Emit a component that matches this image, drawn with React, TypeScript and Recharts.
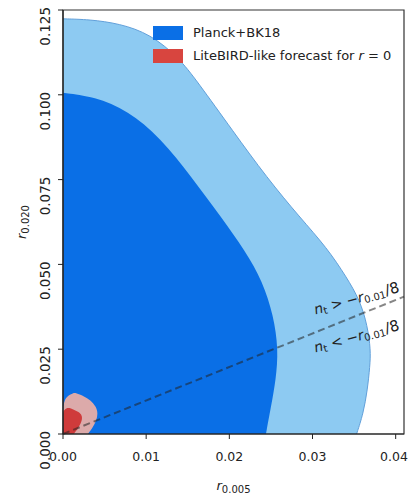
import { ComposedChart, Area, XAxis, YAxis, ReferenceLine, ReferenceArea, ReferenceDot, Legend } from 'recharts';

const xTicks = [0, 0.01, 0.02, 0.03, 0.04];
const yTicks = [0, 0.025, 0.05, 0.075, 0.1, 0.125];

// Planck+BK18 contours, read as [r0.020, r0.005 edge]
const planck68: [number, number][] = [
  [0, 0.0244], [0.008, 0.025], [0.016, 0.0256], [0.025, 0.0259], [0.035, 0.0253],
  [0.045, 0.024], [0.054, 0.0219], [0.064, 0.019], [0.0756, 0.0155], [0.0874, 0.0117],
  [0.0953, 0.0078], [0.0995, 0.0038], [0.1006, 0],
];
const planck95: [number, number][] = [
  [0, 0.0353], [0.006, 0.0361], [0.013, 0.0366], [0.02, 0.0369], [0.0247, 0.037],
  [0.032, 0.0366], [0.0394, 0.0357], [0.0462, 0.0341], [0.055, 0.0317], [0.0638, 0.0285],
  [0.0756, 0.0245], [0.0894, 0.0204], [0.1041, 0.0161], [0.111, 0.0139], [0.1179, 0.0105],
  [0.121, 0.0068], [0.1222, 0.0032], [0.1224, 0],
];
// LiteBIRD forecast, [r0.020, r0.005 low, r0.005 high]
const lite95: [number, number, number][] = [
  [0, 0, 0.003], [0.002, 0, 0.0036], [0.004, 0, 0.004], [0.006, 0, 0.0042],
  [0.008, 0, 0.004], [0.01, 0.0002, 0.0033], [0.0112, 0.0005, 0.0025], [0.0121, 0.0013, 0.0015],
];
const lite68: [number, number, number][] = [
  [0, 0, 0.0013], [0.002, 0, 0.0019], [0.004, 0, 0.0023], [0.0055, 0, 0.0023],
  [0.0065, 0, 0.0019], [0.0073, 0.0002, 0.0012], [0.0077, 0.0006, 0.0007],
];

const consistency = [{ x: 0, y: 0 }, { x: 0.041, y: 0.0405 }];

const legendItems = [
  { label: 'Planck+BK18', color: '#0a6fe6' },
  { label: 'LiteBIRD-like forecast for ', italic: 'r', tail: ' = 0', color: '#d8453f' },
];

const ys = Array.from(
  new Set([...planck68, ...planck95, ...lite95, ...lite68].map((p) => p[0]))
).sort((a, b) => a - b);

const rows = ys.map((y) => {
  const a = planck68.find((p) => p[0] === y);
  const b = planck95.find((p) => p[0] === y);
  const c = lite95.find((p) => p[0] === y);
  const d = lite68.find((p) => p[0] === y);
  return {
    y,
    p68: a ? a[1] : null,
    p95: b ? b[1] : null,
    l95: c ? [c[1], c[2]] : null,
    l68: d ? [d[1], d[2]] : null,
  };
});

const font = 'DejaVu Sans, sans-serif';

const XTick = ({ x, y, payload }: any) => (
  <text x={x} y={y} dy="0.71em" textAnchor="middle" fontFamily={font} fontSize={12.5} fill="#222">
    {payload.value.toFixed(2)}
  </text>
);

const YTick = ({ x, y, payload }: any) => (
  <text transform={`translate(${x},${y - 3}) rotate(-90)`} textAnchor="end" fontFamily={font} fontSize={13.5} fill="#222">
    {payload.value.toFixed(3)}
  </text>
);

const XLabel = ({ viewBox }: any) => (
  <text x={viewBox.x + viewBox.width / 2} y={viewBox.y + 56} textAnchor="middle" fontFamily={font} fontSize={13} fill="#222">
    <tspan fontStyle="italic">r</tspan>
    <tspan fontSize={10} dy={3}>0.005</tspan>
  </text>
);

const YLabel = ({ viewBox }: any) => (
  <text transform={`translate(${viewBox.x + 18},${viewBox.y + viewBox.height / 2}) rotate(-90)`} textAnchor="middle" fontFamily={font} fontSize={13} fill="#222">
    <tspan fontStyle="italic">r</tspan>
    <tspan fontSize={10} dy={3}>0.020</tspan>
  </text>
);

const Note = ({ cx, cy, sign }: any) => (
  <text transform={`translate(${cx},${cy}) rotate(-15)`} textAnchor="middle" dominantBaseline="central" fontFamily={font} fontSize={14} fill="#222">
    <tspan fontStyle="italic">n</tspan>
    <tspan fontSize={10} dy={3}>t</tspan>
    <tspan dy={-3}>{` ${sign} −`}</tspan>
    <tspan fontStyle="italic">r</tspan>
    <tspan fontSize={10} dy={3}>0.01</tspan>
    <tspan dy={-3} fontSize={15}>/8</tspan>
  </text>
);

const renderLegend = () => (
  <div style={{ fontFamily: font, fontSize: 13, color: '#222' }}>
    {legendItems.map((it) => (
      <div key={it.label} style={{ display: 'flex', alignItems: 'center', height: 23 }}>
        <span style={{ width: 30, height: 14, background: it.color, marginRight: 10, display: 'inline-block' }} />
        <span>
          {it.label}
          {it.italic && <i>{it.italic}</i>}
          {it.tail}
        </span>
      </div>
    ))}
  </div>
);

export default function App() {
  return (
    <div style={{ position: 'absolute', left: 0, top: 0, background: '#fff' }}>
      <ComposedChart
        width={408}
        height={499}
        data={rows}
        layout="vertical"
        margin={{ top: 10, right: 4, bottom: 35, left: 8 }}
      >
        <XAxis
          type="number"
          domain={[0, 0.041]}
          ticks={xTicks}
          allowDataOverflow
          height={30}
          tickSize={5}
          tickMargin={13}
          tick={<XTick />}
          axisLine={{ stroke: '#222', strokeWidth: 1.2 }}
          tickLine={{ stroke: '#222' }}
          label={{ content: (p: any) => <XLabel viewBox={p.viewBox} /> }}
        />
        <YAxis
          type="number"
          dataKey="y"
          domain={[0, 0.125]}
          ticks={yTicks}
          reversed
          allowDataOverflow
          width={55}
          tickSize={5}
          tickMargin={8}
          tick={<YTick />}
          axisLine={{ stroke: '#222', strokeWidth: 1.2 }}
          tickLine={{ stroke: '#222' }}
          label={{ content: (p: any) => <YLabel viewBox={p.viewBox} /> }}
        />
        <Legend
          layout="vertical"
          align="center"
          verticalAlign="middle"
          content={renderLegend}
          wrapperStyle={{ top: 21, left: 153, width: 250 }}
        />
        <Area dataKey="p95" type="basis" fill="#8dcaf2" fillOpacity={1} stroke="#62a0da" strokeWidth={1} connectNulls isAnimationActive={false} />
        <Area dataKey="p68" type="basis" fill="#0a6fe6" fillOpacity={1} stroke="none" connectNulls isAnimationActive={false} />
        <Area dataKey="l95" type="basis" fill="#dcaaaa" fillOpacity={1} stroke="none" connectNulls isAnimationActive={false} />
        <Area dataKey="l68" type="basis" fill="#cf3b3b" fillOpacity={1} stroke="none" connectNulls isAnimationActive={false} />
        <ReferenceLine
          segment={consistency}
          stroke="#222"
          strokeOpacity={0.55}
          strokeWidth={2}
          strokeDasharray="7 4"
        />
        <ReferenceArea x1={0} x2={0.041} y1={0} y2={0.125} fill="none" stroke="#333" strokeWidth={1.2} />
        <ReferenceDot x={0.0353} y={0.0400} r={0} shape={(p: any) => <Note cx={p.cx} cy={p.cy} sign=">" />} />
        <ReferenceDot x={0.0353} y={0.0288} r={0} shape={(p: any) => <Note cx={p.cx} cy={p.cy} sign="<" />} />
      </ComposedChart>
    </div>
  );
}
